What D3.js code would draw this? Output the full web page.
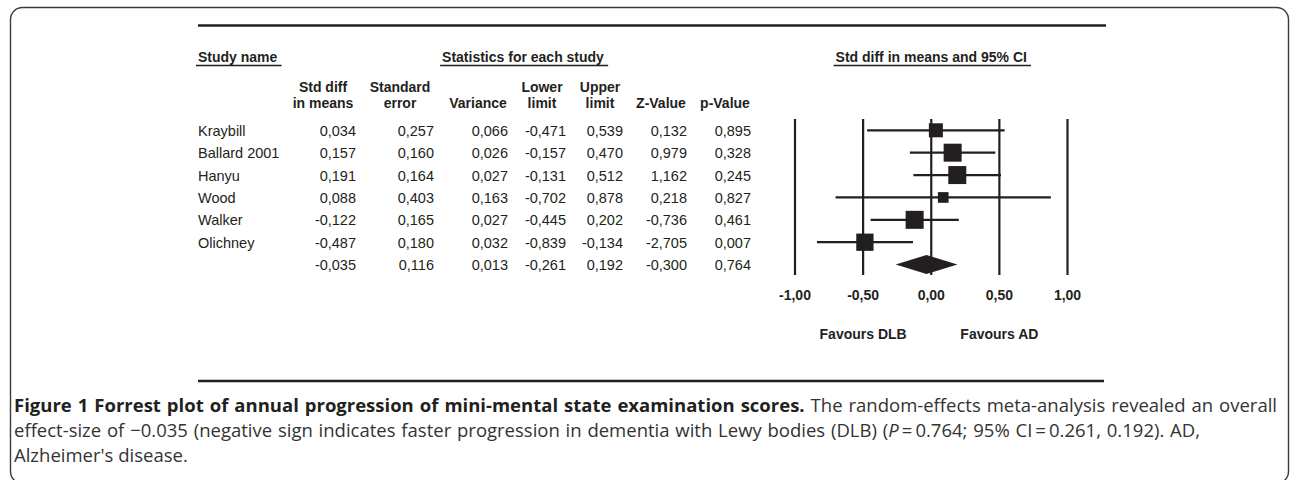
<!DOCTYPE html>
<html>
<head>
<meta charset="utf-8">
<script src="https://cdn.jsdelivr.net/npm/d3@7"></script>
<style>
  body { margin: 0; background: #fff; }
  text { fill: #231f20; }
  .tbl { font-family: "Liberation Sans", Arial, sans-serif; }
  .cap { font-family: "Open Sans", sans-serif; font-size: 18.5px; }
</style>
</head>
<body>
<script>

// study data
var studies  = ["Kraybill", "Ballard 2001", "Hanyu", "Wood", "Walker", "Olichney", ""];
var stdDiff  = [0.034, 0.157, 0.191, 0.088, -0.122, -0.487, -0.035];
var stdErr   = [0.257, 0.160, 0.164, 0.403, 0.165, 0.180, 0.116];
var variance = [0.066, 0.026, 0.027, 0.163, 0.027, 0.032, 0.013];
var lower    = [-0.471, -0.157, -0.131, -0.702, -0.445, -0.839, -0.261];
var upper    = [0.539, 0.470, 0.512, 0.878, 0.202, -0.134, 0.192];
var zValue   = [0.132, 0.979, 1.162, 0.218, -0.736, -2.705, -0.300];
var pValue   = [0.895, 0.328, 0.245, 0.827, 0.461, 0.007, 0.764];
var relWeight = [12.4, 20.5, 20.5, 7.2, 20.5, 18.9];
var xTicks = [-1, -0.5, 0, 0.5, 1];
var colHeaders = [["Std diff", "in means"], ["Standard", "error"], ["Variance"],
                  ["Lower", "limit"], ["Upper", "limit"], ["Z-Value"], ["p-Value"]];
var favours = ["Favours DLB", "Favours AD"];

// layout
var width = 1290, height = 480;
var colRight = [356, 434, 508, 566, 623, 687, 751]
  , colHead = [323, 400, 478, 542, 600, 661, 725];
var nameX = 198;

var locale = d3.formatLocale({decimal: ",", thousands: ".", grouping: [3], currency: ["", ""], minus: "-"});
var f3 = locale.format(".3f"), f2 = locale.format(".2f");

var xScale = d3.scaleLinear().domain([-1, 1]).range([795, 1067.5]);
var yScale = d3.scaleLinear().domain([0, studies.length - 1]).range([130.3, 264.6]);
var boxScale = d3.scaleSqrt().domain([0, 20.5]).range([0, 18]);

var svg = d3.select("body").append("svg")
    .attr("width", width)
    .attr("height", height);

// outer frame
svg.append("rect")
    .attr("x", 10.5).attr("y", 7.5)
    .attr("width", 1278).attr("height", 476)
    .attr("rx", 12)
    .attr("fill", "none")
    .attr("stroke", "#3c3c3c")
    .attr("stroke-width", 1.4);

// rules
svg.append("line").attr("x1", 198).attr("x2", 1106).attr("y1", 25.5).attr("y2", 25.5)
    .attr("stroke", "#231f20").attr("stroke-width", 2.6);
svg.append("line").attr("x1", 198).attr("x2", 1104).attr("y1", 381).attr("y2", 381)
    .attr("stroke", "#231f20").attr("stroke-width", 2.6);

var tbl = svg.append("g").attr("class", "tbl");

// underlined group titles
function titled(x, anchor, label) {
  var t = tbl.append("text")
      .attr("x", x).attr("y", 62)
      .attr("text-anchor", anchor)
      .style("font-size", "14px").style("font-weight", "bold")
      .text(label);
  var b = t.node().getBBox();
  tbl.append("line")
      .attr("x1", b.x - 2).attr("x2", b.x + b.width + 4)
      .attr("y1", 65.5).attr("y2", 65.5)
      .attr("stroke", "#231f20").attr("stroke-width", 1.3);
}
titled(nameX, "start", "Study name");
titled(523, "middle", "Statistics for each study");
titled(xScale(0), "middle", "Std diff in means and 95% CI");

// column headers
colHeaders.forEach(function(h, i) {
  h.forEach(function(s, j) {
    tbl.append("text")
        .attr("x", colHead[i])
        .attr("y", 107.5 - (h.length - 1 - j) * 15.8)
        .attr("text-anchor", "middle")
        .style("font-size", "14px").style("font-weight", "bold")
        .text(s);
  });
});

// table rows
var cols = [stdDiff, stdErr, variance, lower, upper, zValue, pValue];
studies.forEach(function(name, i) {
  var y = yScale(i) + 5.6;
  tbl.append("text").attr("x", nameX).attr("y", y)
      .style("font-size", "14.5px").text(name);
  cols.forEach(function(c, k) {
    tbl.append("text").attr("x", colRight[k]).attr("y", y)
        .attr("text-anchor", "end")
        .style("font-size", "14.5px")
        .text(f3(c[i]));
  });
});

// forest plot: reference lines
var plot = svg.append("g");
plot.selectAll(".ref").data(xTicks).enter().append("line")
    .attr("x1", function(d) { return xScale(d); })
    .attr("x2", function(d) { return xScale(d); })
    .attr("y1", 119).attr("y2", 275)
    .attr("stroke", "#231f20").attr("stroke-width", 2.2);

tbl.selectAll(".tick").data(xTicks).enter().append("text")
    .attr("x", function(d) { return xScale(d); })
    .attr("y", 299.5)
    .attr("text-anchor", "middle")
    .style("font-size", "14px").style("font-weight", "bold")
    .text(function(d) { return f2(d); });

tbl.selectAll(".fav").data(favours).enter().append("text")
    .attr("x", function(d, i) { return xScale(i ? 0.5 : -0.5); })
    .attr("y", 338.5)
    .attr("text-anchor", "middle")
    .style("font-size", "14px").style("font-weight", "bold")
    .text(function(d) { return d; });

// CI whiskers and weight boxes
var idx = d3.range(relWeight.length);
plot.selectAll(".ci").data(idx).enter().append("line")
    .attr("x1", function(i) { return xScale(lower[i]); })
    .attr("x2", function(i) { return xScale(upper[i]); })
    .attr("y1", function(i) { return yScale(i); })
    .attr("y2", function(i) { return yScale(i); })
    .attr("stroke", "#231f20").attr("stroke-width", 2.2);

plot.selectAll(".box").data(idx).enter().append("rect")
    .attr("x", function(i) { return xScale(stdDiff[i]) - boxScale(relWeight[i]) / 2; })
    .attr("y", function(i) { return yScale(i) - boxScale(relWeight[i]) / 2; })
    .attr("width", function(i) { return boxScale(relWeight[i]); })
    .attr("height", function(i) { return boxScale(relWeight[i]); })
    .attr("fill", "#231f20");

// summary diamond
var s = studies.length - 1, ys = yScale(s);
plot.append("path")
    .attr("d", d3.line()([[xScale(lower[s]), ys], [xScale(stdDiff[s]), ys - 9.5],
                          [xScale(upper[s]), ys], [xScale(stdDiff[s]), ys + 9.5]]) + "Z")
    .attr("fill", "#231f20");

// caption
var cap = svg.append("g").attr("class", "cap");

// stretch a caption line to a target width through its spaces
function fitLine(t, target) {
  var w = t.node().getComputedTextLength();
  var n = t.text().split(" ").length - 1;
  t.style("word-spacing", ((target - w) / n) + "px");
}

var l1 = cap.append("text").attr("x", 14).attr("y", 412);
l1.append("tspan").style("font-weight", "bold").style("fill", "#231f20")
    .text("Figure 1 Forrest plot of annual progression of mini-mental state examination scores.");
l1.append("tspan").style("fill", "#333")
    .text(" The random-effects meta-analysis revealed an overall");
fitLine(l1, 1277 - 14);

var l2 = cap.append("text").attr("x", 14).attr("y", 437).style("fill", "#333");
l2.append("tspan").text("effect-size of \u22120.035 (negative sign indicates faster progression in dementia with Lewy bodies (DLB) (");
l2.append("tspan").style("font-style", "italic").text("P");
l2.append("tspan").text("\u2009=\u20090.764; 95% CI\u2009=\u20090.261, 0.192). AD,");
fitLine(l2, 1200 - 14);

cap.append("text").attr("x", 14).attr("y", 462).style("fill", "#333")
    .text("Alzheimer's disease.");

</script>
</body>
</html>
